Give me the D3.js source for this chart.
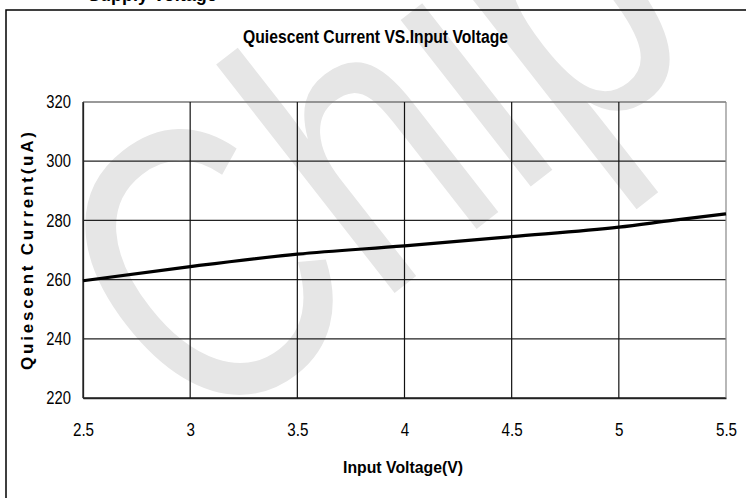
<!DOCTYPE html>
<html><head><meta charset="utf-8">
<script src="https://cdn.jsdelivr.net/npm/d3@7"></script>
<style>
html,body{margin:0;padding:0;background:#fff;}
svg{display:block;}
</style></head>
<body>
<svg id="chart" width="746" height="498"></svg>
<script>
const voltage = [2.5, 3, 3.5, 4, 4.5, 5, 5.25, 5.5];
const current = [259.6, 264.4, 268.6, 271.4, 274.5, 277.7, 280.0, 282.2];
const xTicks = [2.5, 3, 3.5, 4, 4.5, 5, 5.5];
const yTicks = [220, 240, 260, 280, 300, 320];
const chartTitle = "Quiescent Current VS.Input Voltage";
const xTitle = "Input Voltage(V)";
const yTitle = "Quiescent Current(uA)";
const headingFragment = "Supply Voltage";
const watermark = "Chip";

const svg = d3.select("#chart");
const font = "'Liberation Sans',Arial,sans-serif";

function condense(sel, factor) {
  sel.each(function() {
    const len = this.getComputedTextLength();
    d3.select(this).attr("textLength", len * factor).attr("lengthAdjust", "spacingAndGlyphs");
  });
}

const m = {left: 83, right: 726, top: 102, bottom: 398};
const x = d3.scaleLinear().domain([2.5, 5.5]).range([m.left, m.right]);
const y = d3.scaleLinear().domain([220, 320]).range([m.bottom, m.top]);

// watermark (behind)
svg.append("text")
  .attr("transform", "translate(200,445) rotate(-38) scale(0.78,1)")
  .attr("font-family", font)
  .attr("font-size", 400)
  .attr("fill", "#e6e6e6")
  .text(watermark);

// heading fragment cut at the top
svg.append("text")
  .attr("x", 88).attr("y", 1)
  .attr("font-family", font).attr("font-weight", "bold").attr("font-size", 18)
  .attr("fill", "#000")
  .text(headingFragment);

// frame
svg.append("path")
  .attr("d", "M6,500 L6,10 L750,10")
  .attr("fill", "none").attr("stroke", "#000").attr("stroke-width", 1.5);

// title
svg.append("text")
  .attr("x", 375.5).attr("y", 43)
  .attr("text-anchor", "middle")
  .attr("font-family", font).attr("font-weight", "bold").attr("font-size", 18)
  .attr("textLength", 265).attr("lengthAdjust", "spacingAndGlyphs")
  .text(chartTitle);

// gridlines
const g = svg.append("g");
g.selectAll(".hg").data(yTicks).join("line")
  .attr("x1", m.left).attr("x2", m.right)
  .attr("y1", d => y(d)).attr("y2", d => y(d))
  .attr("stroke", d => (d === 320 ? "#777" : "#222")).attr("stroke-width", 1.3);
g.selectAll(".vg").data(xTicks).join("line")
  .attr("y1", m.top).attr("y2", m.bottom)
  .attr("x1", d => x(d)).attr("x2", d => x(d))
  .attr("stroke", d => (d === 5.5 ? "#888" : "#111")).attr("stroke-width", 1.2);

// axes
const xAxis = d3.axisBottom(x).tickValues(xTicks).tickSize(0).tickPadding(25)
  .tickFormat(d => String(d));
const yAxis = d3.axisLeft(y).tickValues(yTicks).tickSize(0).tickPadding(12)
  .tickFormat(d => String(d));

const gx = svg.append("g").attr("transform", `translate(0,${m.bottom})`).call(xAxis);
gx.select(".domain").attr("stroke", "#222").attr("stroke-width", 1.3);
gx.selectAll("text").attr("font-family", font).attr("font-size", 19).attr("fill", "#000")
  .call(condense, 0.8);

const gy = svg.append("g").attr("transform", `translate(${m.left},0)`).call(yAxis);
gy.select(".domain").attr("stroke", "#222").attr("stroke-width", 1.3);
gy.selectAll("text").attr("font-family", font).attr("font-size", 18).attr("fill", "#000")
  .call(condense, 0.82);

// axis titles
svg.append("text")
  .attr("x", 403).attr("y", 473)
  .attr("text-anchor", "middle")
  .attr("font-family", font).attr("font-weight", "bold").attr("font-size", 17)
  .attr("textLength", 120).attr("lengthAdjust", "spacingAndGlyphs")
  .text(xTitle);

svg.append("text")
  .attr("transform", "translate(33,251) rotate(-90)")
  .attr("text-anchor", "middle")
  .attr("font-family", font).attr("font-weight", "bold").attr("font-size", 17)
  .attr("textLength", 238).attr("lengthAdjust", "spacing")
  .text(yTitle);

// data line
const line = d3.line().x((d, i) => x(voltage[i])).y(d => y(d)).curve(d3.curveMonotoneX);
svg.append("path")
  .datum(current)
  .attr("d", line)
  .attr("fill", "none").attr("stroke", "#000").attr("stroke-width", 3.2);
</script>
</body></html>
